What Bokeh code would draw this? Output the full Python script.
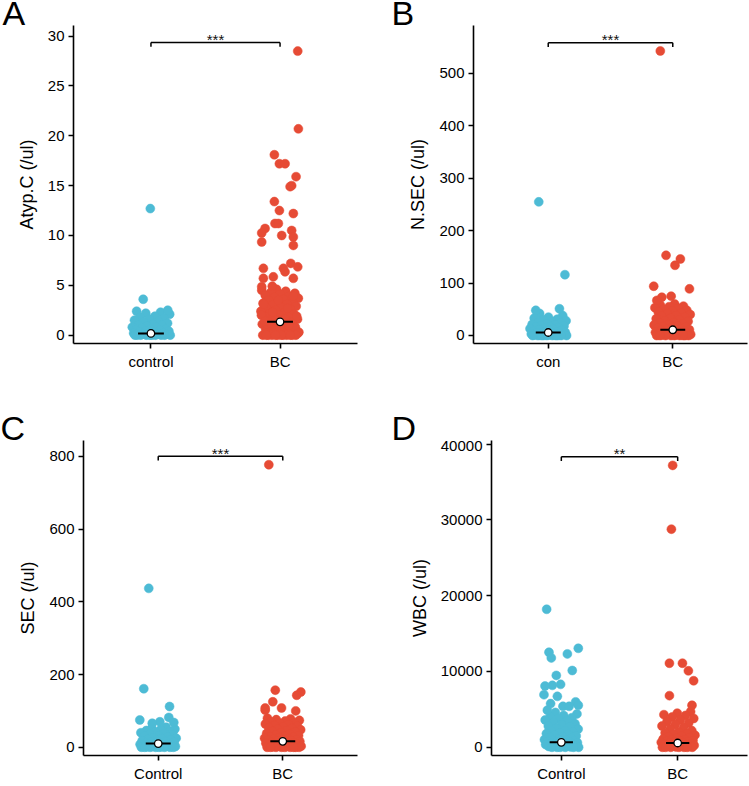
from bokeh.plotting import figure
from bokeh.layouts import row, column
from bokeh.models import Range1d, FixedTicker
from bokeh.core.properties import value
from bokeh.embed import file_html
from bokeh.resources import INLINE

# ---------------- data ----------------
GROUP_POS = [1, 2]
PANEL_LETTERS = ["A", "B", "C", "D"]

# Panel A
A_xlabels = ["control", "BC"]
A_ylabel = "Atyp.C (/ul)"
A_yticks = [0, 5, 10, 15, 20, 25, 30]
A_ctrl_out = [12.7, 3.6, 2.5]
A_ctrl_out_jit = [-0.005, -0.06, 0.13]
A_ctrl_bulk = [2.4, 2.3, 2.2, 2.1, 1.9, 1.8, 1.7, 1.6, 1.5, 1.4, 1.3, 1.2, 1.1, 1.0, 1.0,
               0.9, 0.8, 0.8, 0.7, 0.6, 0.6, 0.5, 0.5, 0.4, 0.4, 0.3, 0.3, 0.2, 0.2, 0.2,
               0.1, 0.1, 0.1, 0.0, 0.0, 0.0, 0.0, 0.0, 0.0, 0.0, 0.0, 0.0, 0.0]
A_bc_out = [28.5, 20.7, 18.1, 17.2, 17.2, 15.9, 15.0, 14.9, 13.4, 12.5, 12.2, 11.2, 11.2,
            10.7, 10.5, 10.25, 10.0, 9.85, 9.35, 9.0, 7.2, 6.85, 6.7, 6.7, 6.35, 5.85, 5.7,
            5.7, 4.9, 4.85]
A_bc_out_jit = [0.137, 0.142, -0.044, -0.005, 0.039, 0.124, 0.09, 0.078, -0.044, -0.005,
                0.103, -0.039, -0.013, -0.116, 0.09, -0.142, 0.013, 0.103, -0.142, 0.103,
                0.083, 0.137, -0.129, 0.026, 0.039, -0.052, -0.129, 0.103, -0.06, -0.142]
A_bc_bulk = [4.6, 4.5, 4.4, 4.3, 4.2, 4.1, 4.0, 3.9, 3.8, 3.7, 3.6, 3.5, 3.4, 3.3, 3.2, 3.1,
             3.0, 2.9, 2.8, 2.7, 2.6, 2.5, 2.4, 2.3, 2.2, 2.1, 2.0, 1.9, 1.8, 1.7, 1.6, 1.5,
             1.4, 1.3, 1.2, 1.1, 1.0, 0.9, 0.8, 0.7, 0.6, 0.5, 0.4, 0.3, 0.2, 0.1, 3.9, 3.5,
             3.1, 2.7, 2.3, 1.9, 1.5, 1.1, 0.7, 0.3, 2.0, 1.6, 1.2, 0.8, 0.4, 1.4, 1.0, 0.6,
             0.2, 0.0, 0.0, 0.0, 0.0, 0.0, 0.0, 0.0, 0.0, 0.0, 0.0, 0.0, 0.0]
A_medians = [0.17, 1.33]
A_bracket = 29.37
A_sig = "***"
A_ylim = (-0.84, 31.07)

# Panel B
B_xlabels = ["con", "BC"]
B_ylabel = "N.SEC (/ul)"
B_yticks = [0, 100, 200, 300, 400, 500]
B_ctrl_out = [255, 116, 51, 48]
B_ctrl_out_jit = [-0.076, 0.134, 0.09, -0.10]
B_ctrl_bulk = [42, 38, 35, 33, 31, 30, 28, 27, 25, 24, 22, 21, 20, 19, 18, 17, 16, 15, 14,
               13, 12, 11, 10, 9, 8, 7, 6, 6, 5, 5, 4, 4, 3, 3, 2, 2, 1, 1, 0, 0, 0, 0, 0,
               0, 0, 0, 0, 0]
B_bc_out = [543, 153, 146, 134, 94, 89, 75, 73, 67]
B_bc_out_jit = [-0.10, -0.054, 0.061, 0.018, -0.153, 0.134, -0.013, -0.088, -0.128]
B_bc_bulk = [60, 58, 56, 55, 53, 52, 50, 48, 47, 45, 43, 42, 40, 38, 37, 35, 33, 32, 30, 28,
             27, 25, 24, 22, 21, 20, 18, 17, 16, 15, 14, 13, 12, 11, 10, 9, 8, 7, 6, 5, 5,
             4, 4, 3, 3, 2, 2, 1, 1, 0, 0, 0, 0, 0, 0, 0, 0, 0]
B_medians = [5.7, 10.9]
B_bracket = 558.6
B_sig = "***"
B_ylim = (-15.3, 591.6)

# Panel C
C_xlabels = ["Control", "BC"]
C_ylabel = "SEC (/ul)"
C_yticks = [0, 200, 400, 600, 800]
C_ctrl_out = [437, 161, 112, 82, 75, 70, 68, 66]
C_ctrl_out_jit = [-0.076, -0.116, 0.091, 0.085, -0.148, 0.013, 0.125, -0.048]
C_ctrl_bulk = [55, 52, 50, 48, 46, 44, 42, 40, 38, 36, 34, 32, 30, 28, 27, 25, 24, 22, 20,
               19, 18, 16, 15, 14, 12, 11, 10, 9, 8, 7, 6, 5, 4, 3, 3, 2, 2, 1, 1, 0, 0, 0,
               0, 0, 0, 0, 0]
C_bc_out = [777, 157, 152, 143, 125, 108, 108, 102, 100]
C_bc_out_jit = [-0.112, -0.06, 0.145, 0.112, -0.08, -0.141, -0.01, -0.141, 0.104]
C_bc_bulk = [80, 78, 76, 74, 72, 70, 68, 66, 64, 62, 60, 58, 56, 54, 52, 50, 48, 46, 44, 42,
             40, 38, 36, 34, 32, 30, 29, 28, 26, 25, 24, 22, 21, 20, 19, 18, 17, 16, 15, 14,
             13, 12, 11, 10, 9, 8, 7, 6, 5, 4, 3, 2, 1, 0, 0, 0, 0, 0, 0, 0, 0, 0]
C_medians = [10, 16.4]
C_bracket = 800.5
C_sig = "***"
C_ylim = (-22.7, 843.7)

# Panel D
D_xlabels = ["Control", "BC"]
D_ylabel = "WBC (/ul)"
D_yticks = [0, 10000, 20000, 30000, 40000]
D_ctrl_out = [18210, 13060, 12540, 12320, 11790, 10130, 9480, 8300, 8170, 8080, 6940, 6720,
              5990, 5760, 5540, 5400, 5400, 4890]
D_ctrl_out_jit = [-0.126, 0.146, -0.106, 0.052, -0.086, 0.094, -0.043, -0.006, -0.077,
                  -0.14, -0.149, -0.034, 0.123, -0.092, 0.146, 0.014, 0.067, -0.12]
D_ctrl_bulk = [4600, 4400, 4200, 4000, 3900, 3800, 3600, 3500, 3300, 3100, 3000, 2800, 2700,
               2500, 2400, 2200, 2100, 2000, 1900, 1800, 1700, 1600, 1500, 1400, 1300, 1200,
               1100, 1000, 950, 900, 850, 800, 750, 700, 650, 600, 550, 500, 450, 400, 350,
               300, 250, 200, 150, 100, 50, 0, 0, 0, 0, 0, 0]
D_bc_out = [37200, 28780, 11090, 11090, 10090, 8780, 6810, 5540]
D_bc_out_jit = [-0.043, -0.054, -0.071, 0.041, 0.092, 0.137, -0.071, 0.123]
D_bc_bulk = [4700, 4500, 4300, 4200, 4000, 3800, 3600, 3400, 3200, 3000, 2800, 2600, 2400,
             2200, 2000, 1900, 1800, 1700, 1600, 1500, 1400, 1300, 1200, 1100, 1000, 950,
             900, 850, 800, 750, 700, 650, 600, 550, 500, 450, 400, 350, 300, 250, 200, 150,
             100, 50, 0, 0, 0, 0, 0, 0, 0]
D_medians = [655, 563]
D_bracket = 38350
D_sig = "**"
D_ylim = (-1087, 40485)

# ---------------- style ----------------
BLUE = "#4DBBD5"
RED = "#E64B35"
FONT = "Liberation Sans"
PHI = 0.6180339887
JIT_W = 0.15
W1, W2 = 375, 373
LETTER_PX = 34
STAR_PX = 15


def quasi_jitter(n, seed):
    # deterministic low-discrepancy horizontal spread (layout only)
    return [JIT_W * (2.0 * ((seed + i * PHI) % 1.0) - 1.0) for i in range(n)]


def make_panel(xlabels, ylabel, yticks, ylim,
               ctrl_out, ctrl_jit, ctrl_bulk, bc_out, bc_jit, bc_bulk,
               medians, bracket, sig, size, borders, seeds):
    fig_w, fig_h = size
    left, right, top, bottom = borders
    frame_h = fig_h - top - bottom
    upp = (ylim[1] - ylim[0]) / frame_h  # data units per pixel
    p = figure(width=fig_w, height=fig_h, output_backend="svg", toolbar_location=None,
               x_range=Range1d(0.4, 2.6), y_range=Range1d(*ylim),
               min_border_left=left, min_border_right=right,
               min_border_top=top, min_border_bottom=bottom)
    p.outline_line_color = None
    p.xgrid.visible = False
    p.ygrid.visible = False
    p.background_fill_color = "white"
    p.border_fill_color = "white"

    groups = [(ctrl_out, ctrl_jit, ctrl_bulk, BLUE), (bc_out, bc_jit, bc_bulk, RED)]
    for gi, (out, jit, bulk, col) in enumerate(groups):
        xc = GROUP_POS[gi]
        xs = [xc + j for j in quasi_jitter(len(bulk), seeds[gi])] + [xc + j for j in jit]
        ys = list(bulk) + list(out)
        p.scatter(xs, ys, size=9, fill_color=col, line_color=col, line_width=0.5)

    # median marks
    p.segment(x0=[g - 0.1 for g in GROUP_POS], y0=medians,
              x1=[g + 0.1 for g in GROUP_POS], y1=medians,
              line_color="black", line_width=2)
    p.scatter(GROUP_POS, medians, size=7.5, fill_color="white",
              line_color="black", line_width=1.3)

    # significance bracket
    drop = 4.3 * upp
    p.segment(x0=[GROUP_POS[0], GROUP_POS[0], GROUP_POS[1]],
              y0=[bracket, bracket, bracket],
              x1=[GROUP_POS[1], GROUP_POS[0], GROUP_POS[1]],
              y1=[bracket, bracket - drop, bracket - drop],
              line_color="black", line_width=1.5)
    p.text(x=[sum(GROUP_POS) / 2], y=[bracket + 3.0 * upp], text=[sig], text_align="center",
           text_baseline="middle", text_font=value(FONT), text_font_size=f"{STAR_PX}px",
           text_color="#111111")

    # axes
    p.xaxis.ticker = FixedTicker(ticks=GROUP_POS)
    p.xaxis.major_label_overrides = {GROUP_POS[0]: xlabels[0], GROUP_POS[1]: xlabels[1]}
    p.yaxis.ticker = FixedTicker(ticks=yticks)
    p.yaxis.axis_label = ylabel
    for ax in (p.xaxis[0], p.yaxis[0]):
        ax.axis_line_color = "black"
        ax.axis_line_width = 1.6
        ax.major_tick_line_color = "black"
        ax.major_tick_line_width = 1.6
        ax.major_tick_out = 5
        ax.major_tick_in = 0
        ax.minor_tick_line_color = None
        ax.major_label_text_font = FONT
        ax.major_label_text_font_size = "15px"
        ax.major_label_text_color = "black"
        ax.major_label_standoff = 4
    p.yaxis.axis_label_text_font = FONT
    p.yaxis.axis_label_text_font_size = "18px"
    p.yaxis.axis_label_text_font_style = "normal"
    p.yaxis.axis_label_text_color = "black"
    p.yaxis.axis_label_standoff = 8
    return p


def letter_strip(letters, xs, height):
    s = figure(width=W1 + W2, height=height, output_backend="svg", toolbar_location=None,
               x_range=Range1d(0, W1 + W2), y_range=Range1d(0, height),
               x_axis_type=None, y_axis_type=None, min_border=0)
    s.outline_line_color = None
    s.background_fill_color = "white"
    s.border_fill_color = "white"
    # letters sit on the strip's bottom edge: middle of the em box 0.35em above it
    s.text(x=xs, y=[0.4 + 0.35 * LETTER_PX] * len(xs), text=letters, text_font=value(FONT),
           text_font_size=f"{LETTER_PX}px", text_color="black", text_align="left",
           text_baseline="middle")
    return s


ROW1_STRIP, ROW2_STRIP = 25, 47
H1 = 393 - ROW1_STRIP
H2 = 391 - ROW2_STRIP

pA = make_panel(A_xlabels, A_ylabel, A_yticks, A_ylim,
                A_ctrl_out, A_ctrl_out_jit, A_ctrl_bulk, A_bc_out, A_bc_out_jit, A_bc_bulk,
                A_medians, A_bracket, A_sig, (W1, H1), (73, 18, 0, 50), (0.13, 0.41))
pB = make_panel(B_xlabels, B_ylabel, B_yticks, B_ylim,
                B_ctrl_out, B_ctrl_out_jit, B_ctrl_bulk, B_bc_out, B_bc_out_jit, B_bc_bulk,
                B_medians, B_bracket, B_sig, (W2, H1), (98, 1, 0, 50), (0.27, 0.55))
pC = make_panel(C_xlabels, C_ylabel, C_yticks, C_ylim,
                C_ctrl_out, C_ctrl_out_jit, C_ctrl_bulk, C_bc_out, C_bc_out_jit, C_bc_bulk,
                C_medians, C_bracket, C_sig, (W1, H2), (83, 18, 0, 27), (0.71, 0.09))
pD = make_panel(D_xlabels, D_ylabel, D_yticks, D_ylim,
                D_ctrl_out, D_ctrl_out_jit, D_ctrl_bulk, D_bc_out, D_bc_out_jit, D_bc_bulk,
                D_medians, D_bracket, D_sig, (W2, H2), (116, 1, 0, 27), (0.33, 0.87))

s1 = letter_strip(PANEL_LETTERS[:2], [2, W1 + 16], ROW1_STRIP)
s2 = letter_strip(PANEL_LETTERS[2:], [0, W1 + 16], ROW2_STRIP)

layout = column(s1, row(pA, pB), s2, row(pC, pD))
open("out.html", "w").write(file_html(layout, INLINE))
